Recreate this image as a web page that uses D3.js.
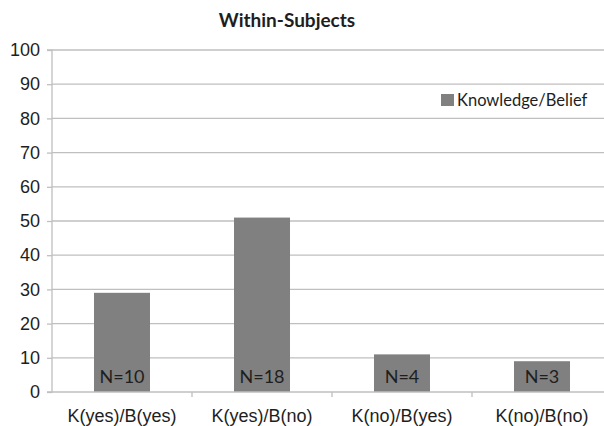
<!DOCTYPE html>
<html>
<head>
<meta charset="utf-8">
<script src="https://cdn.jsdelivr.net/npm/d3@7"></script>
<style>
  html, body { margin: 0; padding: 0; background: #fff; }
  svg { display: block; font-family: Lato, "Open Sans", sans-serif; }
</style>
</head>
<body>
<svg id="chart" width="604" height="426"></svg>
<script>
// Share of participants (%) in each knowledge/belief combination
const categories = ["K(yes)/B(yes)", "K(yes)/B(no)", "K(no)/B(yes)", "K(no)/B(no)"];
const percents = [29, 51, 11, 9];
const counts = [10, 18, 4, 3];
const yTicks = [0, 10, 20, 30, 40, 50, 60, 70, 80, 90, 100];
const seriesName = "Knowledge/Belief";

const svg = d3.select("#chart");
const plotLeft = 52, plotRight = 612, plotTop = 50, plotBottom = 392;
const barColor = "#808080", gridColor = "#bfbfbf", textColor = "#1e1e1e";

const x = d3.scaleBand().domain(categories).range([plotLeft, plotRight]).paddingInner(0.6).paddingOuter(0.3);
const y = d3.scaleLinear().domain([0, 100]).range([plotBottom, plotTop]);

// Horizontal gridlines
svg.append("g")
  .selectAll("line").data(yTicks.slice(1)).join("line")
  .attr("x1", plotLeft).attr("x2", 604)
  .attr("y1", d => y(d)).attr("y2", d => y(d))
  .attr("stroke", gridColor).attr("stroke-width", 1.3);

// Y axis
const yAxis = svg.append("g")
  .attr("transform", `translate(${plotLeft},0)`)
  .call(d3.axisLeft(y).tickValues(yTicks).tickSize(5).tickPadding(7));
yAxis.select(".domain").attr("stroke", gridColor).attr("stroke-width", 1.3).attr("d", `M-5,${plotBottom}H0V${plotTop}H-5`);
yAxis.selectAll(".tick line").attr("stroke", gridColor).attr("stroke-width", 1.3);
yAxis.selectAll(".tick text").attr("fill", textColor).attr("font-size", 18);

// Bars
svg.append("g")
  .selectAll("rect").data(categories).join("rect")
  .attr("x", d => x(d))
  .attr("width", x.bandwidth())
  .attr("y", (d, i) => y(percents[i]))
  .attr("height", (d, i) => y(0) - y(percents[i]))
  .attr("fill", barColor);

// X axis
const step = x.step();
const xAxis = svg.append("g")
  .attr("transform", `translate(0,${plotBottom})`)
  .call(d3.axisBottom(x).tickSize(0).tickPadding(17));
xAxis.select(".domain").attr("stroke", gridColor).attr("stroke-width", 1.3).attr("d", `M${plotLeft},0H604`);
xAxis.selectAll(".tick text").attr("fill", textColor).attr("font-size", 18);
// Category separators
xAxis.append("g").selectAll("line").data(categories.slice(1)).join("line")
  .attr("x1", d => x(d) - step * 0.3).attr("x2", d => x(d) - step * 0.3)
  .attr("y1", 0).attr("y2", 5)
  .attr("stroke", gridColor).attr("stroke-width", 1.3);

// Count labels inside bars
svg.append("g")
  .selectAll("text").data(categories).join("text")
  .attr("x", d => x(d) + x.bandwidth() / 2)
  .attr("y", plotBottom - 9)
  .attr("text-anchor", "middle")
  .attr("font-size", 18)
  .attr("fill", textColor)
  .text((d, i) => `N=${counts[i]}`);

// Title
svg.append("text")
  .attr("x", 287).attr("y", 27)
  .attr("text-anchor", "middle")
  .attr("font-size", 19).attr("font-weight", "bold")
  .attr("fill", textColor)
  .text("Within-Subjects");

// Legend
const legend = svg.append("g");
legend.append("rect").attr("x", 441).attr("y", 94).attr("width", 13).attr("height", 12).attr("fill", barColor);
legend.append("text").attr("x", 457).attr("y", 106)
  .attr("font-size", 16.5).attr("fill", textColor).text(seriesName);
</script>
</body>
</html>
